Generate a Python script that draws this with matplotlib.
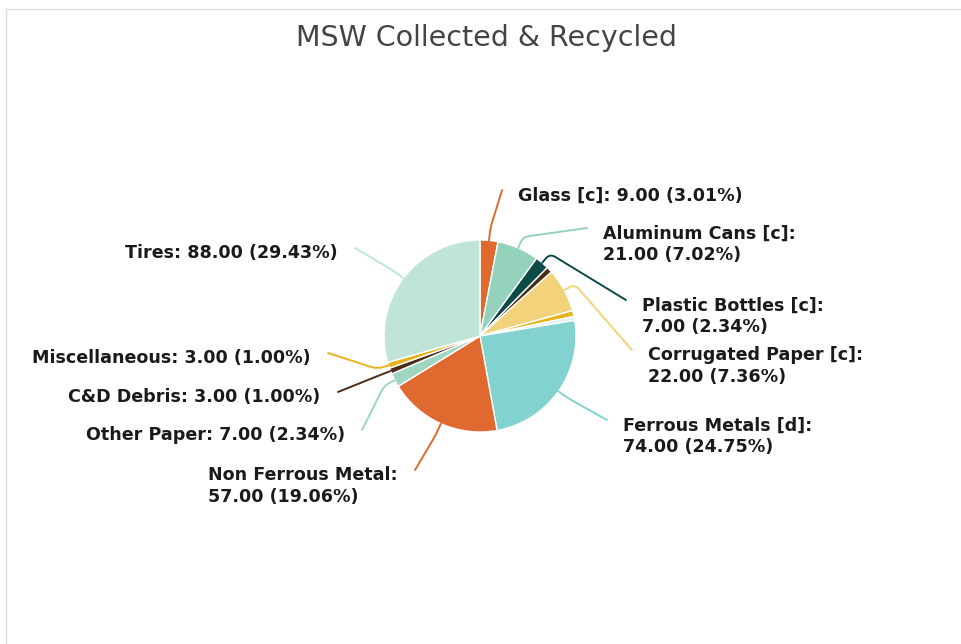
import numpy as np
import matplotlib
matplotlib.use("Agg")
from matplotlib import pyplot as plt
from matplotlib.lines import Line2D

# slice data, clockwise from 12 o'clock
names = ["Glass [c]", "Aluminum Cans [c]", "Plastic Bottles [c]", "",
         "Corrugated Paper [c]", "", "", "Ferrous Metals [d]",
         "Non Ferrous Metal", "Other Paper", "C&D Debris", "Miscellaneous", "Tires"]
values = [9, 21, 7, 3, 22, 3, 2, 74, 57, 7, 3, 3, 88]
colors = ["#e0692f", "#94d2bb", "#0b4a45", "#4a2c17", "#f3d27c", "#e9b21f", "#dff3f1",
          "#82d3cf", "#e0692f", "#9ed6c0", "#4a2c17", "#e9b21f", "#c0e5d8"]

# where each leader line ends (pie radius = 1), None = no label
label_end = [(0.23, 1.52), (1.115, 1.125), (1.52, 0.375), None,
             (1.583, -0.146), None, None, (1.323, -0.875),
             (-0.677, -1.396), (-1.229, -0.979), (-1.479, -0.583),
             (-1.583, -0.177), (-1.302, 0.917)]

W, H, DPI = 962, 644, 100
fig = plt.figure(figsize=(W / DPI, H / DPI), dpi=DPI)
ax = fig.add_axes([0, 0, 1, 1])
R = 96.0  # pixels per data unit
cx, cy = 480, 336

wedges, _ = ax.pie(values, colors=colors, startangle=90, counterclock=False, radius=1,
                   wedgeprops=dict(edgecolor="white", linewidth=1))
ax.set_xlim(-cx / R, (W - cx) / R)
ax.set_ylim(-(H - cy) / R, cy / R)
ax.set_aspect("equal")
ax.axis("off")

total = sum(values)
for w, name, v, col, end in zip(wedges, names, values, colors, label_end):
    if end is None or not name:
        continue
    ang = (w.theta1 + w.theta2) / 2.0
    x, y = np.cos(np.deg2rad(ang)), np.sin(np.deg2rad(ang))
    sep = "\n" if len(name) > 15 else " "
    txt = f"{name}:{sep}{v:.2f} ({v / total * 100:.2f}%)"
    ax.annotate("", xy=(x, y), xytext=end,
                arrowprops=dict(arrowstyle="-", color=col, lw=1.4, shrinkA=0, shrinkB=0,
                                patchA=None,
                                connectionstyle=f"arc,angleA=0,armA=0,angleB={ang},armB=12,rad=6"))
    right = end[0] > 0
    ax.annotate(txt, xy=end, xytext=(11.5 if right else -12.5, 2.6), textcoords="offset points",
                ha="left" if right else "right", va="top", multialignment="left",
                fontsize=12.6, fontweight="bold", color="#1a1a1a", linespacing=1.25)

fig.text(487 / W, 1 - 38 / H, "MSW Collected & Recycled", ha="center", va="center",
         fontsize=20.5, color="#444444")

# frame edges of the original panel
fig.add_artist(Line2D([6 / W, 1], [1 - 9 / H, 1 - 9 / H], transform=fig.transFigure,
                      color="#dddddd", lw=1))
fig.add_artist(Line2D([6 / W, 6 / W], [0, 1 - 9 / H], transform=fig.transFigure,
                      color="#dddddd", lw=1))

fig.savefig("out.png", dpi=DPI)
